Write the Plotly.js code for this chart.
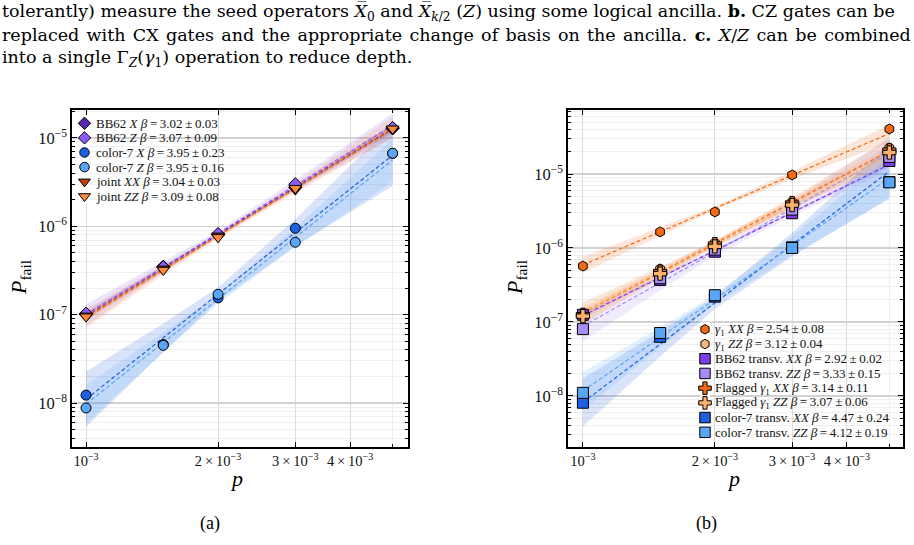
<!DOCTYPE html>
<html>
<head>
<meta charset="utf-8">
<script src="https://cdn.plot.ly/plotly-3.0.1.min.js"></script>
<style>
  html, body { margin: 0; padding: 0; background: #fff; }
  #chart { width: 914px; height: 545px; }
</style>
</head>
<body>
<div id="chart"></div>
<script>
// physical error rate p
const p = [1e-3, 1.5e-3, 2e-3, 3e-3, 5e-3];

// (a) failure probability of the seed-operator measurements
const bb62X    = [1.0e-7, 3.5e-7, 8.0e-7, 2.75e-6, 1.28e-5];
const bb62Z    = [1.03e-7, 3.45e-7, 8.2e-7, 3.0e-6, 1.3e-5];
const color7X  = [1.23e-8, 4.6e-8, 1.55e-7, 9.5e-7, 6.7e-6];
const color7Z  = [8.8e-9, 4.5e-8, 1.7e-7, 6.6e-7, 6.7e-6];
const jointXX  = [9.7e-8, 3.3e-7, 7.8e-7, 2.6e-6, 1.25e-5];
const jointZZ  = [9.5e-8, 3.2e-7, 7.5e-7, 2.7e-6, 1.27e-5];
const betaA    = [3.02, 3.07, 3.95, 3.95, 3.04, 3.09];
const betaErrA = [0.03, 0.09, 0.23, 0.16, 0.03, 0.08];
const namesA   = ['BB62', 'BB62', 'color-7', 'color-7', 'joint', 'joint'];
const basisA   = ['X', 'Z', 'X', 'Z', 'XX', 'ZZ'];

// (b) failure probability of the gamma_1 style gadgets
const gamma1XX   = [5.7e-7, 1.65e-6, 3.07e-6, 9.7e-6, 4.06e-5];
const gamma1ZZ   = [1.3e-7, 5.2e-7, 1.17e-6, 4.2e-6, 2.25e-5];
const bbTransXX  = [1.25e-7, 3.7e-7, 8.9e-7, 2.95e-6, 1.5e-5];
const bbTransZZ  = [8.0e-8, 3.9e-7, 9.5e-7, 3.3e-6, 1.7e-5];
const flaggedXX  = [1.25e-7, 4.8e-7, 1.13e-6, 4.05e-6, 2.1e-5];
const flaggedZZ  = [1.2e-7, 4.5e-7, 1.05e-6, 3.8e-6, 1.95e-5];
const c7TransXX  = [8.1e-9, 6.3e-8, 2.2e-7, 1.02e-6, 7.8e-6];
const c7TransZZ  = [1.1e-8, 7.1e-8, 2.3e-7, 1.0e-6, 7.7e-6];
const betaB    = [2.54, 3.12, 2.92, 3.33, 3.14, 3.07, 4.47, 4.12];
const betaErrB = [0.08, 0.04, 0.02, 0.15, 0.11, 0.06, 0.24, 0.19];
const namesB   = ['<i>γ</i><sub>1</sub>', '<i>γ</i><sub>1</sub>', 'BB62 transv.', 'BB62 transv.',
                  'Flagged <i>γ</i><sub>1</sub>', 'Flagged <i>γ</i><sub>1</sub>',
                  'color-7 transv.', 'color-7 transv.'];
const basisB   = ['XX', 'ZZ', 'XX', 'ZZ', 'XX', 'ZZ', 'XX', 'ZZ'];

// tick labels
const xTickVals = [1e-3, 2e-3, 3e-3, 4e-3];
const xTickText = ['10<sup>−3</sup>', '2\u2009×\u200910<sup>−3</sup>',
                   '3\u2009×\u200910<sup>−3</sup>', '4\u2009×\u200910<sup>−3</sup>'];
const yTickVals = [1e-8, 1e-7, 1e-6, 1e-5];
const yTickText = ['10<sup>−8</sup>', '10<sup>−7</sup>', '10<sup>−6</sup>', '10<sup>−5</sup>'];

// caption text above the panels
const captionLines = [
  'tolerantly) measure the seed operators <i>X̅</i><sub>0</sub> and <i>X̅</i><sub><i>k</i>/2</sub> (<i>Z</i>) using some logical ancilla. <b>b.</b> CZ gates can be',
  'replaced with CX gates and the appropriate change of basis on the ancilla. <b>c.</b> <i>X</i>/<i>Z</i> can be combined',
  'into a single Γ<sub><i>Z</i></sub>(<i>γ</i><sub>1</sub>) operation to reduce depth.'
];
const panelLabels = ['(a)', '(b)'];

// ---------------- styles ----------------
const SERIF = 'Liberation Serif, DejaVu Serif, serif';
const CAPTION_FONT = 'DejaVu Serif, Liberation Serif, serif';
// word gaps per caption line (first two lines run to the full width)
const captionGaps = [' ', ' \u200A', ' '];

const seriesA = [bb62X, bb62Z, color7X, color7Z, jointXX, jointZZ];
const colorsA = ['#5b22b4', '#8d5cf6', '#1f5fe3', '#5aa6f6', '#c4400d', '#fb8b3a'];
const symbolsA = ['diamond', 'diamond', 'circle', 'circle', 'triangle-down', 'triangle-down'];
const sizesA = [10, 10, 10, 10, 11, 11];

const seriesB = [gamma1XX, gamma1ZZ, bbTransXX, bbTransZZ, flaggedXX, flaggedZZ, c7TransXX, c7TransZZ];
const colorsB = ['#f26a16', '#fdb477', '#7b3de6', '#a88cf5', '#ee6a1c', '#fdb46a', '#1f5fe3', '#5aa6f6'];
const symbolsB = ['hexagon', 'hexagon', 'square', 'square', 'cross', 'cross', 'square', 'square'];
const sizesB = [10, 10, 11, 11, 11, 11, 11, 11];

const BAND_K = 4, BAND_D0 = 0.08;

function rgba(hex, a) {
  const n = parseInt(hex.slice(1), 16);
  return `rgba(${(n >> 16) & 255},${(n >> 8) & 255},${n & 255},${a})`;
}
const mean = arr => arr.reduce((s, v) => s + v, 0) / arr.length;

// power-law fit with the quoted exponent; intercept from the data in log-log space
function powerFit(y, beta, err) {
  const lx = p.map(Math.log10), ly = y.map(Math.log10);
  const mx = mean(lx);
  const a = mean(ly.map((v, i) => v - beta * (lx[i] - mx)));
  const centre = lx.map(v => a + beta * (v - mx));
  const half = lx.map(v => BAND_K * err * Math.sqrt((v - mx) ** 2 + BAND_D0 ** 2));
  return {
    line: centre.map(v => Math.pow(10, v)),
    upper: centre.map((v, i) => Math.pow(10, v + half[i])),
    lower: centre.map((v, i) => Math.pow(10, v - half[i]))
  };
}

function panelTraces(series, betas, errs, colors, symbols, sizes, xa, ya) {
  const bands = [], lines = [], marks = [];
  series.forEach((y, i) => {
    const f = powerFit(y, betas[i], errs[i]);
    bands.push({
      x: p.concat(p.slice().reverse()),
      y: f.upper.concat(f.lower.slice().reverse()),
      xaxis: xa, yaxis: ya, mode: 'lines', fill: 'toself',
      fillcolor: rgba(colors[i], 0.17), line: { width: 0 },
      hoverinfo: 'skip', showlegend: false
    });
    lines.push({
      x: p, y: f.line, xaxis: xa, yaxis: ya, mode: 'lines',
      line: { color: colors[i], width: 1.2, dash: '4px,2.5px' },
      hoverinfo: 'skip', showlegend: false
    });
    marks.push({
      x: p, y: y, xaxis: xa, yaxis: ya, mode: 'markers', showlegend: false,
      marker: { color: colors[i], symbol: symbols[i], size: sizes[i],
                line: { color: '#000', width: 1 } },
      cliponaxis: false
    });
  });
  return bands.concat(lines, marks);
}

function fmt(v) { return v.toFixed(2); }
function legendText(name, basis, beta, err) {
  return `${name} <i>${basis}</i> <i>β</i>\u2009=\u2009${fmt(beta)}\u2009±\u2009${fmt(err)}`;
}

// legend keys live on small hidden axes so the rows can be packed tightly
function legendKeys(colors, symbols, sizes, xa, ya) {
  return colors.map((c, i) => ({
    x: [0.5], y: [i], xaxis: xa, yaxis: ya, mode: 'markers', showlegend: false,
    hoverinfo: 'skip', cliponaxis: false,
    marker: { color: c, symbol: symbols[i], size: sizes[i] * 0.95, line: { color: '#000', width: 1 } }
  }));
}

const traces = []
  .concat(panelTraces(seriesA, betaA, betaErrA, colorsA, symbolsA, sizesA, 'x', 'y'))
  .concat(panelTraces(seriesB, betaB, betaErrB, colorsB, symbolsB, sizesB, 'x2', 'y2'))
  .concat(legendKeys(colorsA, symbolsA, sizesA, 'x3', 'y3'))
  .concat(legendKeys(colorsB, symbolsB, sizesB, 'x4', 'y4'));

// y minor ticks at 2..9 of every decade
const yMinor = [];
for (let e = -9; e <= -4; e++) for (let m = 2; m <= 9; m++) yMinor.push(m * Math.pow(10, e));

const W = 914, H = 545;
const px = v => v / W, py = v => 1 - v / H;

function xAxis(domain, range, anchor) {
  return {
    type: 'log', domain, range, anchor,
    tickmode: 'array', tickvals: xTickVals, ticktext: xTickText,
    ticks: 'inside', ticklen: 5, tickwidth: 1, tickcolor: '#000',
    showline: true, linecolor: '#000', linewidth: 1.6, mirror: 'allticks',
    showgrid: true, gridcolor: '#dcdcdc', gridwidth: 1,
    minor: { tickmode: 'array', tickvals: [5e-3], ticks: 'inside', ticklen: 3,
             tickcolor: '#000', showgrid: true, gridcolor: '#eeeeee', gridwidth: 1 },
    tickfont: { family: SERIF, size: 14.5, color: '#111' },
    zeroline: false, fixedrange: true
  };
}
function yAxis(domain, range, anchor) {
  return {
    type: 'log', domain, range, anchor,
    tickmode: 'array', tickvals: yTickVals, ticktext: yTickText,
    ticks: 'inside', ticklen: 5, tickwidth: 1, tickcolor: '#000',
    showline: true, linecolor: '#000', linewidth: 1.6, mirror: 'allticks',
    showgrid: true, gridcolor: '#d2d2d2', gridwidth: 1.4,
    minor: { tickmode: 'array', tickvals: yMinor, ticks: 'inside', ticklen: 3,
             tickcolor: '#000', showgrid: true, gridcolor: '#efefef', gridwidth: 1 },
    tickfont: { family: SERIF, size: 16.5, color: '#111' },
    zeroline: false, fixedrange: true
  };
}
function hiddenAxis(domain, range, anchor) {
  return { domain, range, anchor, visible: false, fixedrange: true };
}

const annotations = [];
captionLines.forEach((t, i) => annotations.push({
  xref: 'paper', yref: 'paper', x: 0, y: py(12 + 23 * i), xanchor: 'left', yanchor: 'middle',
  text: t.split(' ').join(captionGaps[i]), showarrow: false,
  font: { family: CAPTION_FONT, size: 17.5, color: '#000' }
}));
// legend text rows
betaA.forEach((b, i) => annotations.push({
  xref: 'paper', yref: 'y3', x: px(94), y: i, xanchor: 'left', yanchor: 'middle',
  text: legendText(namesA[i], basisA[i], b, betaErrA[i]), showarrow: false,
  font: { family: SERIF, size: 13, color: '#111' }
}));
betaB.forEach((b, i) => annotations.push({
  xref: 'paper', yref: 'y4', x: px(713), y: i, xanchor: 'left', yanchor: 'middle',
  text: legendText(namesB[i], basisB[i], b, betaErrB[i]), showarrow: false,
  font: { family: SERIF, size: 13, color: '#111' }
}));
// axis titles and panel labels
[236, 733].forEach(cx => annotations.push({
  xref: 'paper', yref: 'paper', x: px(cx), y: py(478), xanchor: 'center', yanchor: 'middle',
  text: '<i>p</i>', showarrow: false, font: { family: SERIF, size: 22, color: '#000' }
}));
[20, 516].forEach(cx => annotations.push({
  xref: 'paper', yref: 'paper', x: px(cx), y: py(278), xanchor: 'center', yanchor: 'middle',
  textangle: -90, text: '<i>P</i><sub>fail</sub>', showarrow: false,
  font: { family: SERIF, size: 22, color: '#000' }
}));
[[210, 0], [706, 1]].forEach(([cx, k]) => annotations.push({
  xref: 'paper', yref: 'paper', x: px(cx), y: py(523), xanchor: 'center', yanchor: 'middle',
  text: panelLabels[k], showarrow: false, font: { family: SERIF, size: 18, color: '#000' }
}));

const plotY = [py(447), py(110)];
const layout = {
  width: W, height: H, margin: { l: 0, r: 0, t: 0, b: 0 },
  paper_bgcolor: '#fff', plot_bgcolor: '#fff', showlegend: false,
  xaxis: xAxis([px(72), px(408)], [-3.032, -2.266], 'y'),
  yaxis: yAxis(plotY, [-8.497, -4.684], 'x'),
  xaxis2: xAxis([px(568), px(903)], [-3.034, -2.270], 'y2'),
  yaxis2: yAxis(plotY, [-8.69, -4.135], 'x2'),
  xaxis3: hiddenAxis([px(79), px(90)], [0, 1], 'y3'),
  yaxis3: hiddenAxis([py(196.3 + 7.3), py(123.3 - 7.3)], [5.5, -0.5], 'x3'),
  xaxis4: hiddenAxis([px(700), px(710)], [0, 1], 'y4'),
  yaxis4: hiddenAxis([py(432.3 + 7.35), py(329.3 - 7.35)], [7.5, -0.5], 'x4'),
  annotations
};

Plotly.newPlot('chart', traces, layout, { staticPlot: true, displayModeBar: false });
</script>
</body>
</html>
